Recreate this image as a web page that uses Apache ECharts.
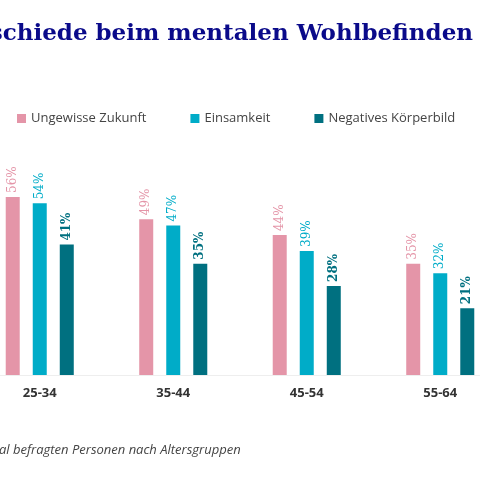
<!DOCTYPE html>
<html>
<head>
  <meta charset="UTF-8">
  <style>
    body { margin: 0; background: #fff; overflow: hidden; }
    #main { width: 534px; height: 480px; margin-left: -27px; }
  </style>
</head>
<body>
  <div id="main"></div>
  <script src="https://cdn.jsdelivr.net/npm/echarts@6/dist/echarts.min.js"></script>
  <script>
    const categories = ['25-34', '35-44', '45-54', '55-64'];
    const zukunft = [56, 49, 44, 35];
    const einsamkeit = [54, 47, 39, 32];
    const koerperbild = [41, 35, 28, 21];

    const colors = ['#e495a8', '#00acc8', '#007080'];
    const myChart = echarts.init(document.getElementById('main'));

    function makeSeries(name, data, color, bold) {
      return {
        name: name,
        type: 'bar',
        data: data,
        barWidth: 14,
        barGap: '93%',
        itemStyle: { color: color },
        label: {
          show: true,
          position: 'top',
          rotate: 90,
          align: 'left',
          verticalAlign: 'middle',
          distance: 4,
          formatter: '{c}%',
          color: color,
          fontFamily: 'DejaVu Serif',
          fontWeight: bold ? 'bold' : 'normal',
          fontSize: 12
        }
      };
    }

    myChart.setOption({
      title: {
        text: 'Unterschiede beim mentalen Wohlbefinden',
        right: 29,
        top: 18,
        textStyle: { fontFamily: 'DejaVu Serif', fontWeight: 'bold', fontSize: 23, color: '#0a0a8a' }
      },
      legend: {
        left: 39,
        top: 107,
        itemWidth: 9,
        itemHeight: 9,
        itemGap: 44,
        icon: 'rect',
        textStyle: { fontFamily: 'Open Sans', fontSize: 13, color: '#444' }
      },
      grid: { left: 0, right: 0, top: 57, bottom: 105, containLabel: false },
      xAxis: {
        type: 'category',
        data: categories,
        axisLine: { lineStyle: { color: '#eeeeee', width: 1 } },
        axisTick: { show: false },
        axisLabel: { margin: 12, fontFamily: 'Open Sans', fontWeight: 'bold', fontSize: 13, color: '#333' }
      },
      yAxis: { type: 'value', min: 0, max: 100, show: false, splitLine: { show: false } },
      series: [
        makeSeries('Ungewisse Zukunft', zukunft, colors[0], false),
        makeSeries('Einsamkeit', einsamkeit, colors[1], false),
        makeSeries('Negatives Körperbild', koerperbild, colors[2], true)
      ],
      graphic: [{
        type: 'text',
        left: 26,
        top: 444,
        style: {
          text: 'al befragten Personen nach Altersgruppen',
          font: 'italic 13px "Open Sans"',
          fill: '#444'
        }
      }]
    });
  </script>
</body>
</html>
